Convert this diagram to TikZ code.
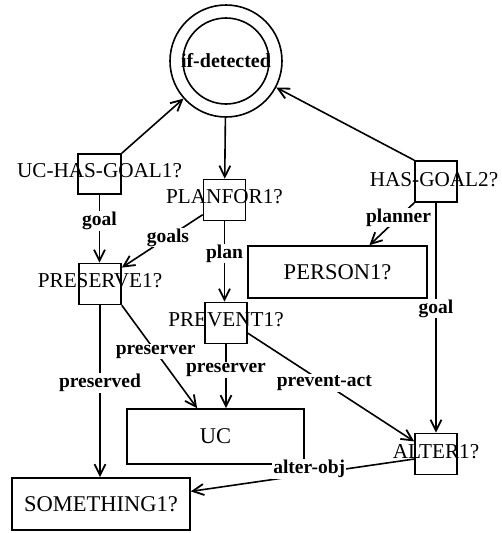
\documentclass[tikz,border=0pt]{standalone}
\usepackage{fontspec}
\setmainfont{Liberation Serif}
\usetikzlibrary{arrows.meta,calc}
\begin{document}
\begin{tikzpicture}[x=1pt,y=-1pt,line width=1.6pt,
  sq/.style={draw, rectangle, minimum width=42pt, minimum height=41pt, inner sep=0pt},
  wide/.style={draw, rectangle, inner sep=0pt},
  ntext/.style={font=\fontsize{21.2}{25}\selectfont, inner sep=0pt},
  wtext/.style={font=\fontsize{22.5}{26}\selectfont},
  lab/.style={font=\bfseries\fontsize{19.5}{23}\selectfont, fill=white, inner sep=1pt},
  arr/.style={-{Straight Barb[length=11pt,width=11pt,line width=1.8pt]}},
]
\useasboundingbox (0,0) rectangle (501,533);

% goal state
\node[circle, draw, minimum size=112pt, inner sep=0pt,
      font=\bfseries\fontsize{20}{24}\selectfont] (det) at (226,61) {if-detected};
\draw (det.center) circle[radius=43pt];

% relation boxes
\node[sq, minimum width=43pt, minimum height=40pt,
      label={[ntext,yshift=3pt]center:UC-HAS-GOAL1?}] (ucg) at (99.5,174) {};
\node[sq, label={[ntext,yshift=3pt]center:PLANFOR1?}] (pf) at (224.5,200) {};
\node[sq, label={[ntext,yshift=3pt]center:PRESERVE1?}] (pres) at (100,284) {};
\node[sq, label={[ntext,yshift=2pt,xshift=-2pt]center:HAS-GOAL2?}] (hg2) at (436,181.5) {};
\node[sq, label={[ntext,yshift=3pt]center:PREVENT1?}] (prev) at (226,323) {};
\node[sq, label={[ntext,yshift=2pt]center:ALTER1?}] (alt) at (436,454) {};

% object boxes
\node[wide, minimum width=179pt, minimum height=52pt, wtext] (per) at (337.5,272) {PERSON1?};
\node[wide, minimum width=177pt, minimum height=55pt, wtext] (uc) at (215.5,436.5) {UC};
\node[wide, minimum width=178pt, minimum height=52pt, wtext] (smth) at (101,504) {SOMETHING1?};

% connectors
\draw[arr] (ucg.north east) -- (det);
\draw[arr] (det) -- (pf);
\draw[arr] (hg2.north west) -- (det);
\draw[arr] (ucg.south) -- node[lab,pos=0.38]{goal} (ucg.south |- pres.north);
\draw[arr] (pf.214) -- node[lab,pos=0.43]{goals} (pres.37);
\draw[arr] (pf.south) -- node[lab,pos=0.4]{plan} (pf.south |- prev.north);
\draw[arr] (hg2.south west) -- node[lab,pos=0.35]{planner} (per.40);
\draw[arr] (hg2.south) -- node[lab,pos=0.46]{goal} (hg2.south |- alt.north);
\draw[arr] (prev.south) -- node[lab,pos=0.4]{preserver} (prev.south |- uc.north);
\draw[arr] (pres.south east) -- node[lab,pos=0.45]{preserver} (uc.123);
\draw[arr] (pres.south) -- node[lab,pos=0.45]{preserved} (pres.south |- smth.north);
\draw[arr] (prev.335) -- node[lab,pos=0.46]{prevent-act} (alt.150);
\draw[arr] (alt.193) -- node[lab,pos=0.47,yshift=5pt]{alter-obj} (smth.8);
\end{tikzpicture}
\end{document}
